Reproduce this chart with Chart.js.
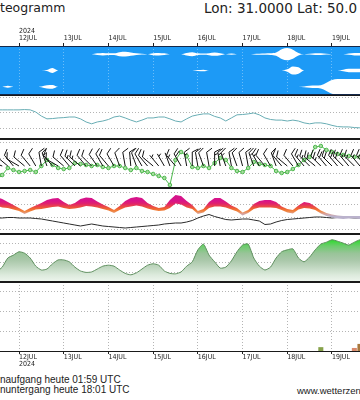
<!DOCTYPE html>
<html>
<head>
<meta charset="utf-8">
<script src="https://cdn.jsdelivr.net/npm/chart.js@4.4.1/dist/chart.umd.min.js"></script>
<style>
  body { margin: 0; width: 360px; height: 400px; overflow: hidden; background: #fff; position: relative; color: #222; }
  canvas { position: absolute; left: 0; }
  .txt { position: absolute; white-space: nowrap; line-height: 1; }
</style>
</head>
<body>
<div class="txt" style="left:0;top:2px;font-family:'DejaVu Sans';font-size:12.5px">teogramm</div>
<div class="txt" style="left:204px;top:2px;font-family:'DejaVu Sans';font-size:13.5px">Lon: 31.0000 Lat: 50.0</div>

<canvas id="wolken" width="360" height="73" style="top:22px"></canvas>
<canvas id="druck" width="360" height="44" style="top:95px"></canvas>
<canvas id="wind" width="360" height="49" style="top:139px"></canvas>
<canvas id="temp" width="360" height="46" style="top:188px"></canvas>
<canvas id="feuchte" width="360" height="48" style="top:234px"></canvas>
<canvas id="regen" width="360" height="88" style="top:282px"></canvas>

<div class="txt" style="left:0;top:375px;font-family:'Liberation Sans';font-size:10px">naufgang heute 01:59 UTC</div>
<div class="txt" style="left:0;top:385px;font-family:'Liberation Sans';font-size:10px">nuntergang heute 18:01 UTC</div>
<div class="txt" style="left:297px;top:386px;font-family:'Liberation Sans';font-size:9.5px">www.wetterzen</div>

<script>
// Zeitachse: Stunden ab 12.07.2024 00 UTC, alle 3 Stunden
const stunden = [-12, -9, -6, -3, 0, 3, 6, 9, 12, 15, 18, 21, 24, 27, 30, 33, 36, 39, 42, 45,
  48, 51, 54, 57, 60, 63, 66, 69, 72, 75, 78, 81, 84, 87, 90, 93, 96, 99, 102, 105,
  108, 111, 114, 117, 120, 123, 126, 129, 132, 135, 138, 141, 144, 147, 150, 153, 156, 159, 162, 165,
  168, 171, 174, 177, 180, 183, 186];

// Beschriftung der Tage
const tagLabels = ["12JUL", "13JUL", "14JUL", "15JUL", "16JUL", "17JUL", "18JUL", "19JUL"];
const jahr = "2024";

// Bedeckung (0..1) hohe / mittlere / tiefe Wolken
const wolkenHoch = [0, 0, 0, 0, 0, 0, 0, 0, 0, 0,
  0, 0, 0, 0, 0, 0, 0, 0, 0.1, 0.15,
  0.1, 0.1, 0.25, 0.3, 0.2, 0.1, 0.05, 0, 0.12, 0.15,
  0.1, 0, 0, 0, 0.15, 0.25, 0.1, 0.08, 0.12, 0.2,
  0.12, 0, 0.08, 0, 0, 0, 0.03, 0.06, 0.08, 0.1,
  0.2, 0.6, 0.75, 0.55, 0.15, 0, 0.05, 0.1, 0.1, 0.05,
  0, 0, 0, 0.08, 0.15, 0.15, 0.15];
const wolkenMittel = [0, 0, 0, 0, 0, 0, 0, 0, 0, 0.05,
  0.3, 0, 0, 0, 0, 0, 0, 0, 0, 0,
  0, 0, 0, 0, 0, 0, 0, 0, 0, 0,
  0, 0, 0, 0, 0, 0, 0.05, 0.1, 0, 0,
  0, 0, 0, 0, 0, 0, 0, 0, 0, 0,
  0, 0, 0.15, 0.5, 0.4, 0, 0, 0, 0, 0,
  0, 0, 0.1, 0.2, 0.2, 0.2, 0.2];
const wolkenTief = [0, 0, 0.12, 0, 0, 0, 0, 0, 0.05, 0.2,
  0.22, 0, 0, 0, 0, 0, 0, 0, 0, 0,
  0, 0, 0, 0, 0, 0, 0, 0, 0, 0,
  0, 0, 0, 0, 0, 0, 0, 0, 0, 0,
  0, 0, 0, 0, 0, 0, 0, 0, 0, 0,
  0, 0, 0, 0, 0, 0.05, 0.12, 0.15, 0.2, 0.5,
  0.85, 0.95, 0.95, 0.95, 0.95, 0.95, 0.95];

// Luftdruck hPa
const luftdruck = [1016.0, 1016.0, 1016.0, 1016.0, 1016.0, 1016.1, 1016.0, 1015.3, 1014.0, 1013.1,
  1013.2, 1013.4, 1013.5, 1013.7, 1013.7, 1013.1, 1012.1, 1011.5, 1012.1, 1012.4,
  1012.9, 1013.7, 1014.0, 1013.4, 1012.7, 1012.1, 1012.7, 1013.4, 1013.4, 1013.7,
  1013.7, 1013.1, 1012.4, 1012.1, 1013.1, 1014.0, 1014.4, 1014.7, 1014.7, 1013.9,
  1013.4, 1012.4, 1013.4, 1014.4, 1014.5, 1014.7, 1015.0, 1014.4, 1013.4, 1012.9,
  1012.7, 1012.7, 1012.4, 1012.7, 1012.4, 1011.8, 1011.5, 1011.8, 1011.8, 1011.5,
  1011.0, 1010.6, 1010.5, 1010.5, 1010.3, 1010.2, 1010.0];

// Wind km/h und Richtung (Grad, woher)
const windKmh = [8, 13, 20, 18, 16, 17, 18, 16, 22, 28,
  23, 20, 19, 20, 25, 24, 23, 22, 23, 21,
  20, 22, 22, 20, 18, 20, 17, 16, 14, 12,
  10, 3, 28, 36, 32, 21, 20, 22, 20, 25,
  30, 28, 20, 17, 16, 20, 26, 24, 23, 22,
  17, 15, 16, 19, 23, 28, 31, 41, 42, 38,
  36, 34, 33, 32, 31, 31, 30];
const windRichtung = [300, 290, 310, 320, 300, 310, 320, 330, 350, 340,
  320, 300, 310, 320, 315, 310, 320, 315, 325, 330,
  320, 330, 340, 350, 355, 340, 330, 320, 310, 320,
  330, 340, 320, 330, 350, 0, 350, 340, 350, 0,
  350, 340, 350, 340, 345, 350, 340, 330, 320, 330,
  340, 320, 310, 320, 330, 320, 315, 310, 315, 320,
  315, 320, 315, 320, 315, 320, 320];

// Temperatur-Band (oben / unten) und Taupunkt, Grad C
const tempOben = [28.0, 27.2, 26.0, 24.8, 23.6, 22.4, 23.6, 24.6, 25.6, 26.8,
  27.4, 27.6, 26.0, 24.8, 25.6, 27.2, 27.8, 27.6, 26.2, 25.0,
  24.0, 22.8, 24.4, 26.4, 27.6, 28.0, 27.6, 25.6, 24.4, 23.6,
  24.0, 26.8, 28.8, 28.4, 26.4, 24.8, 22.4, 23.2, 26.0, 27.6,
  27.6, 26.2, 24.6, 23.6, 21.8, 22.8, 25.2, 26.4, 26.8, 26.8,
  26.0, 24.2, 23.2, 22.8, 24.6, 26.0, 25.6, 24.2, 22.6, 21.6,
  21.0, 20.6, 20.4, 20.4, 20.4, 20.4, 20.4];
const tempUnten = [24.6, 23.8, 23.6, 23.0, 22.4, 21.2, 22.2, 23.0, 23.2, 23.6,
  24.0, 24.2, 23.6, 23.2, 23.4, 23.8, 24.4, 24.2, 23.8, 23.2,
  22.6, 21.6, 22.8, 23.8, 24.2, 24.6, 24.2, 23.4, 22.8, 22.4,
  22.6, 23.6, 25.4, 25.0, 23.8, 23.2, 21.2, 21.8, 23.6, 24.2,
  24.2, 23.8, 23.0, 22.2, 20.6, 21.6, 23.2, 23.8, 23.8, 23.8,
  23.6, 22.8, 21.8, 21.4, 23.0, 23.6, 23.4, 22.8, 21.4, 20.4,
  19.8, 19.4, 19.2, 19.4, 19.4, 19.2, 19.2];
const taupunkt = [19.6, 19.6, 19.8, 19.8, 19.6, 19.6, 19.6, 19.4, 19.2, 18.8,
  18.4, 18.0, 17.6, 17.2, 16.8, 16.4, 16.8, 17.2, 16.8, 16.4,
  16.2, 16.0, 15.8, 15.6, 15.8, 16.0, 16.2, 16.4, 16.6, 16.8,
  17.2, 17.4, 17.6, 17.6, 18.0, 18.6, 19.6, 20.4, 21.0, 20.2,
  19.6, 19.0, 18.8, 19.0, 19.2, 19.2, 18.8, 18.4, 17.0, 17.2,
  18.0, 18.6, 19.0, 19.2, 19.4, 19.6, 19.8, 20.0, 20.0, 19.8,
  19.6, 19.8, 20.0, 19.8, 19.6, 19.6, 19.6];

// relative Feuchte %
const feuchte = [21, 31, 50, 56, 63, 60, 50, 33, 25, 27,
  38, 46, 46, 42, 31, 23, 20, 21, 27, 33,
  35, 33, 25, 18, 15, 19, 27, 35, 38, 35,
  23, 18, 17, 21, 33, 42, 67, 79, 56, 42,
  29, 31, 44, 63, 77, 79, 50, 33, 25, 31,
  50, 63, 67, 69, 50, 42, 52, 67, 79, 83,
  88, 85, 81, 77, 83, 88, 88];

// Niederschlag mm / 3h
const regenGruen = [0, 0, 0, 0, 0, 0, 0, 0, 0, 0,
  0, 0, 0, 0, 0, 0, 0, 0, 0, 0,
  0, 0, 0, 0, 0, 0, 0, 0, 0, 0,
  0, 0, 0, 0, 0, 0, 0, 0, 0, 0,
  0, 0, 0, 0, 0, 0, 0, 0, 0, 0,
  0, 0, 0, 0, 0, 0, 0, 0, 1.2, 0,
  0, 0, 0, 0, 0, 0, 0];
const regenRot = [0, 0, 0, 0, 0, 0, 0, 0, 0, 0,
  0, 0, 0, 0, 0, 0, 0, 0, 0, 0,
  0, 0, 0, 0, 0, 0, 0, 0, 0, 0,
  0, 0, 0, 0, 0, 0, 0, 0, 0, 0,
  0, 0, 0, 0, 0, 0, 0, 0, 0, 0,
  0, 0, 0, 0, 0, 0, 0, 0, 0, 0,
  0, 0, 0, 0, 1.0, 0, 0];
const regenBraun = [0, 0, 0, 0, 0, 0, 0, 0, 0, 0,
  0, 0, 0, 0, 0, 0, 0, 0, 0, 0,
  0, 0, 0, 0, 0, 0, 0, 0, 0, 0,
  0, 0, 0, 0, 0, 0, 0, 0, 0, 0,
  0, 0, 0, 0, 0, 0, 0, 0, 0, 0,
  0, 0, 0, 0, 0, 0, 0, 0, 0, 0,
  0, 0, 0, 0, 0, 2.0, 0];

// sichtbarer Ausschnitt der Zeitachse (Stunden)
const X_MIN = -10.2;
const X_MAX = 183.03;
const gitterFarbe = "#b4b4b4";
const tickFont = { family: "'Liberation Sans Narrow', 'DejaVu Sans Condensed', 'Liberation Sans', sans-serif", size: 7, lineHeight: 1 };

Chart.defaults.animation = false;
Chart.defaults.responsive = false;
Chart.defaults.plugins.legend.display = false;
Chart.defaults.plugins.tooltip.enabled = false;
Chart.defaults.elements.point.radius = 0;
Chart.defaults.layout.padding = 0;
Chart.defaults.layout.autoPadding = false;

// Hintergrund und obere/untere Linie jedes Panels
const panelRahmen = {
  id: "panelRahmen",
  defaults: { fill: null, line: "#1a1a1a" },
  beforeDraw(chart, args, opts) {
    const { ctx, chartArea: a } = chart;
    if (!opts.fill) return;
    ctx.save();
    ctx.fillStyle = opts.fill;
    ctx.fillRect(a.left, a.top, a.right - a.left, a.bottom - a.top);
    ctx.restore();
  },
  afterDraw(chart, args, opts) {
    const { ctx, chartArea: a } = chart;
    ctx.save();
    ctx.strokeStyle = opts.line;
    ctx.lineWidth = 1;
    ctx.beginPath();
    ctx.moveTo(a.left, a.top + 0.5);
    ctx.lineTo(a.right, a.top + 0.5);
    ctx.moveTo(a.left, a.bottom - 0.5);
    ctx.lineTo(a.right, a.bottom - 0.5);
    ctx.stroke();
    ctx.restore();
  },
};

// Windfiedern an den Punkten des Datensatzes mit "fiedern: true"
const windFiedern = {
  id: "windFiedern",
  afterDatasetsDraw(chart) {
    const ctx = chart.ctx;
    chart.data.datasets.forEach((ds, di) => {
      if (!ds.fiedern) return;
      const meta = chart.getDatasetMeta(di);
      ctx.save();
      ctx.strokeStyle = "#111";
      ctx.lineWidth = 1;
      ctx.beginPath();
      meta.data.forEach((pt, i) => {
        const w = windRichtung[i] * Math.PI / 180;
        const ux = Math.sin(w), uy = -Math.cos(w);
        const px = Math.cos(w), py = Math.sin(w);
        const L = 14;
        const ex = pt.x + ux * L, ey = pt.y + uy * L;
        ctx.moveTo(pt.x, pt.y);
        ctx.lineTo(ex, ey);
        let halbe = Math.round(windKmh[i] / 1.852 / 5);
        let s = 0;
        while (halbe >= 2) {
          const bx = ex - ux * s, by = ey - uy * s;
          ctx.moveTo(bx, by);
          ctx.lineTo(bx + px * 6 + ux * 3, by + py * 6 + uy * 3);
          s += 3;
          halbe -= 2;
        }
        if (halbe === 1) {
          if (s === 0) s = 3;
          const bx = ex - ux * s, by = ey - uy * s;
          ctx.moveTo(bx, by);
          ctx.lineTo(bx + px * 3 + ux * 1.5, by + py * 3 + uy * 1.5);
        }
      });
      ctx.stroke();
      ctx.restore();
    });
  },
};
Chart.register(panelRahmen, windFiedern);

// nur ganze Schritte innerhalb der Grenzen behalten
function nurStufen(step, min, max) {
  return (scale) => {
    scale.ticks = scale.ticks.filter((t) => {
      const r = t.value / step;
      return Math.abs(r - Math.round(r)) < 1e-6 && t.value > min && t.value < max;
    });
  };
}

// ein Tick pro Tag
const tagesTicks = (scale) => {
  scale.ticks = tagLabels.map((l, i) => ({ value: i * 24 }));
};

function xVersteckt() {
  return {
    type: "linear",
    offset: false,
    min: X_MIN,
    max: X_MAX,
    ticks: { display: false },
    grid: { display: false, drawTicks: false },
    border: { display: false },
    afterFit: (s) => { s.height = 0; },
  };
}

function yAchse(min, max, step) {
  return {
    min: min,
    max: max,
    ticks: { display: false, stepSize: step, includeBounds: false },
    afterBuildTicks: nurStufen(step, min, max),
    grid: { color: gitterFarbe, drawTicks: false },
    border: { display: false, dash: [1, 2] },
    afterFit: (s) => { s.width = 0; },
  };
}

function xBeschriftet(position, hoehe, tickLaenge, callback) {
  return {
    type: "linear",
    position: position,
    offset: false,
    min: X_MIN,
    max: X_MAX,
    ticks: {
      align: "start", padding: position === "top" ? 1 : 0,
      maxRotation: 0, autoSkip: false, color: "#222", font: tickFont, callback: callback,
    },
    afterBuildTicks: tagesTicks,
    grid: {
      offset: false,
      color: position === "top" ? "rgba(255,255,255,0.35)" : gitterFarbe,
      drawTicks: true, tickLength: tickLaenge, tickColor: "#222", tickBorderDash: [],
    },
    border: { display: false, dash: [1, 2] },
    afterFit: (s) => { s.height = hoehe; },
  };
}

const punkte = (werte) => stunden.map((h, i) => ({ x: h, y: werte[i] }));

// Farbverlauf nach Wert der y-Achse
function verlauf(stopps, ersatz) {
  return (ctx) => {
    const chart = ctx.chart;
    const a = chart.chartArea;
    const ys = chart.scales.y;
    if (!a || !ys) return ersatz;
    const g = chart.ctx.createLinearGradient(0, a.top, 0, a.bottom);
    stopps.forEach(([wert, farbe]) => {
      const o = (ys.getPixelForValue(wert) - a.top) / (a.bottom - a.top);
      g.addColorStop(Math.min(1, Math.max(0, o)), farbe);
    });
    return g;
  };
}

// Wolken: weisse Flaechen um drei Niveaus
function wolkenBand(niveau, bedeckung) {
  const basis = { borderColor: "rgba(0,0,0,0)", borderWidth: 0, cubicInterpolationMode: "monotone", pointRadius: 0 };
  return [
    Object.assign({}, basis, { data: stunden.map((h, i) => ({ x: h, y: niveau + bedeckung[i] / 2 })), fill: "+1", backgroundColor: "#ffffff" }),
    Object.assign({}, basis, { data: stunden.map((h, i) => ({ x: h, y: niveau - bedeckung[i] / 2 })), fill: false }),
  ];
}

new Chart(document.getElementById("wolken"), {
  type: "line",
  data: { datasets: [].concat(wolkenBand(2.5, wolkenHoch), wolkenBand(1.5, wolkenMittel), wolkenBand(0.5, wolkenTief)) },
  options: {
    scales: {
      x: xBeschriftet("top", 24, 3, (v) => (v === 0 ? [jahr, tagLabels[0]] : tagLabels[v / 24])),
      y: Object.assign(yAchse(0, 3, 10), { grid: { display: false } }),
    },
    plugins: { panelRahmen: { fill: "#1d9af6", line: "#14284a" } },
  },
});

new Chart(document.getElementById("druck"), {
  type: "line",
  data: { datasets: [{ data: punkte(luftdruck), borderColor: "#68adb4", borderWidth: 1, tension: 0 }] },
  options: {
    scales: { x: xVersteckt(), y: yAchse(1006.6, 1020.8, 5) },
  },
});

new Chart(document.getElementById("wind"), {
  type: "line",
  data: {
    datasets: [
      {
        data: punkte(windKmh), borderColor: "#4cb84c", borderWidth: 1, tension: 0,
        pointRadius: 1.8, pointBackgroundColor: "#a8dca0", pointBorderColor: "#4cb84c", pointBorderWidth: 1,
      },
      { data: stunden.map((h) => ({ x: h, y: 22 })), showLine: false, pointRadius: 0, fiedern: true },
    ],
  },
  options: {
    scales: { x: xVersteckt(), y: yAchse(0, 49, 15) },
  },
});

new Chart(document.getElementById("temp"), {
  type: "line",
  data: {
    datasets: [
      {
        data: punkte(tempOben), fill: "+1", borderColor: "rgba(0,0,0,0)", borderWidth: 0, tension: 0,
        backgroundColor: verlauf([[31, "#d0108e"], [26.4, "#d81488"], [25.4, "#e0206e"], [24.4, "#e8404e"],
          [23.4, "#ee6234"], [22.4, "#f2843a"], [21.3, "#daa29a"], [20.3, "#bab2cc"], [13, "#bab2cc"]], "#ee6030"),
      },
      { data: punkte(tempUnten), fill: false, borderColor: "rgba(0,0,0,0)", borderWidth: 0, tension: 0 },
      { data: punkte(taupunkt), fill: false, borderColor: "#2a2a2a", borderWidth: 1, tension: 0 },
    ],
  },
  options: {
    scales: { x: xVersteckt(), y: yAchse(13.2, 31.6, 5) },
  },
});

new Chart(document.getElementById("feuchte"), {
  type: "line",
  data: {
    datasets: [{
      data: punkte(feuchte), fill: "origin", borderColor: "#5e8f5e", borderWidth: 1, tension: 0.2,
      backgroundColor: verlauf([[100, "#12e012"], [85, "#3ad83a"], [75, "#6ccc6c"], [60, "#98c498"],
        [45, "#aac8aa"], [30, "#c2d8c2"], [15, "#dceadc"], [0, "#eef6ee"]], "#9c9"),
    }],
  },
  options: {
    scales: { x: xVersteckt(), y: yAchse(0, 100, 20) },
  },
});

new Chart(document.getElementById("regen"), {
  type: "bar",
  data: {
    datasets: [
      { data: punkte(regenGruen), backgroundColor: "#86a24a", grouped: false, barPercentage: 0.9, categoryPercentage: 1 },
      { data: punkte(regenRot), backgroundColor: "#d8896c", grouped: false, barPercentage: 0.9, categoryPercentage: 1 },
      { data: punkte(regenBraun), backgroundColor: "#a8783c", grouped: false, barPercentage: 0.9, categoryPercentage: 1 },
    ],
  },
  options: {
    scales: {
      x: xBeschriftet("bottom", 18, 2, (v) => (v === 0 ? [tagLabels[0], jahr] : tagLabels[v / 24])),
      y: yAchse(0, 17.3, 5),
    },
  },
});
</script>
</body>
</html>
